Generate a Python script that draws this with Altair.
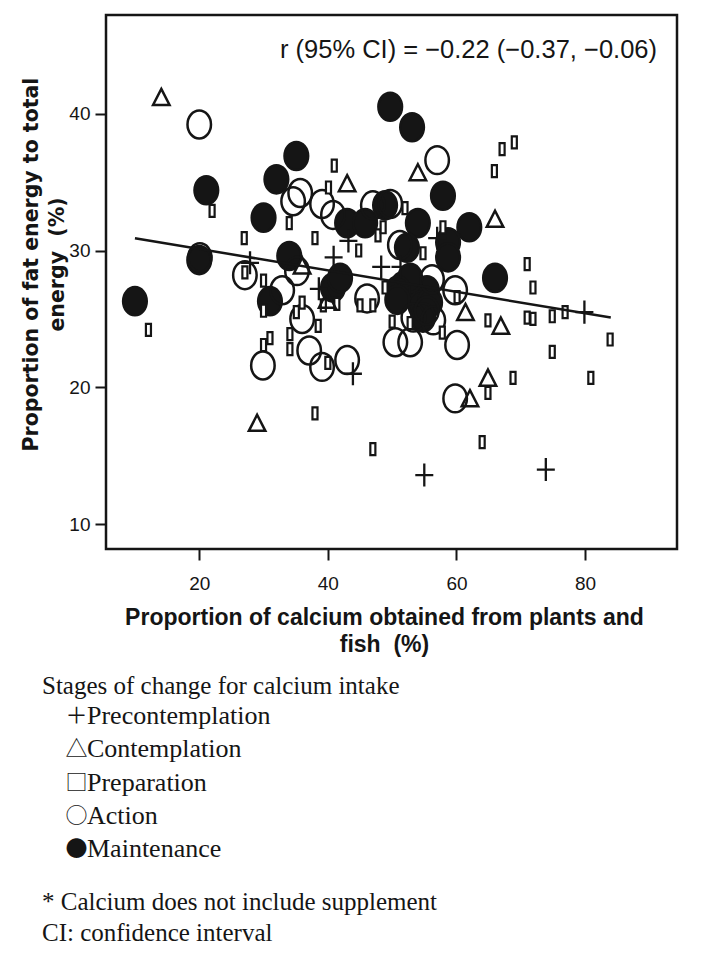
import altair as alt
import pandas as pd

# ---------------- data ----------------
stages = ["Precontemplation", "Contemplation", "Preparation", "Action", "Maintenance"]
legend_symbols = ["\uff0b", "\u25b3", "\u25a1", "\u25cb", "\u25cf"]

pre_x = [27.9, 40.9, 43.2, 38.6, 57.0, 48.3, 51.3, 43.9, 55.0, 73.9, 79.9]
pre_y = [29.1, 29.5, 30.7, 27.2, 30.9, 28.8, 28.8, 21.0, 13.6, 14.0, 25.5]

con_x = [14.1, 43.0, 54.0, 66.0, 29.0, 61.4, 66.9, 64.9, 62.1, 39.9, 36.0]
con_y = [41.2, 34.9, 35.7, 32.3, 17.4, 25.5, 24.5, 20.7, 19.2, 26.4, 28.9]

prep_x = [12.1, 22.0, 27.0, 27.1, 30.0, 30.0, 30.0, 31.0, 34.0, 34.1, 34.1, 35.1, 36.0,
          38.0, 38.5, 38.0, 39.3, 40.0, 40.1, 41.0, 41.4, 44.8, 45.0, 47.0, 47.0, 47.8,
          48.6, 48.9, 50.0, 52.0, 52.8, 54.8, 57.8, 57.9, 60.1, 64.9, 64.9, 64.0, 65.9,
          67.1, 69.0, 68.8, 71.0, 71.9, 71.0, 71.9, 74.9, 74.9, 76.9, 80.9, 83.9]
prep_y = [24.2, 32.9, 30.9, 28.4, 27.8, 25.6, 23.1, 23.6, 32.0, 23.9, 22.8, 25.5, 26.2,
          30.9, 24.5, 18.1, 26.0, 21.8, 34.6, 36.2, 26.1, 30.0, 26.0, 26.0, 15.5, 31.1,
          31.7, 27.3, 24.8, 33.1, 24.7, 29.8, 24.0, 31.7, 26.6, 24.9, 19.6, 16.0, 35.8,
          37.4, 37.9, 20.7, 29.0, 27.3, 25.1, 25.0, 25.2, 22.6, 25.5, 20.7, 23.5]

act_x = [20.0, 20.1, 27.1, 29.9, 32.9, 34.6, 35.7, 35.2, 36.0, 37.1, 39.1, 39.1, 40.8,
         43.0, 46.1, 47.0, 49.7, 51.2, 50.5, 52.8, 53.3, 56.2, 56.4, 57.0, 59.8, 60.1,
         59.8, 55.4]
act_y = [39.2, 29.5, 28.2, 21.6, 27.1, 33.6, 34.2, 28.5, 25.0, 22.7, 33.4, 21.5, 32.6,
         22.0, 26.5, 33.3, 33.4, 30.4, 23.3, 23.3, 25.1, 27.9, 24.9, 36.6, 27.1, 23.1,
         19.2, 25.6]

main_x = [10.0, 20.0, 21.1, 30.0, 31.0, 32.0, 34.0, 35.1, 40.8, 41.9, 43.0, 45.8, 48.9,
          49.7, 53.1, 54.0, 57.9, 62.0, 66.0, 58.7, 58.7, 52.3, 51.7, 53.6, 55.4, 54.4,
          55.9, 52.8, 50.9, 54.8, 50.8]
main_y = [26.3, 29.3, 34.4, 32.4, 26.3, 35.2, 29.6, 36.9, 27.3, 28.0, 32.0, 32.0, 33.3,
          40.5, 39.0, 32.0, 34.0, 31.7, 28.0, 30.6, 29.5, 30.2, 27.4, 26.7, 27.1, 26.0,
          26.2, 28.0, 27.1, 25.1, 26.4]

fit_x = [10.0, 84.0]
fit_y = [30.9, 25.1]

x_ticks = [20, 40, 60, 80]
y_ticks = [10, 20, 30, 40]

r_text = "r (95% CI) = \u22120.22 (\u22120.37, \u22120.06)"
x_title = ["Proportion of calcium obtained from plants and", "fish\u00a0\u00a0(%)"]
y_title = ["Proportion of fat energy to total", "energy\u00a0\u00a0(%)"]
legend_title = "Stages of change for calcium intake"
footnotes = ["* Calcium does not include supplement", "CI: confidence interval"]

# ---------------- styling ----------------
INK = "#151515"
ELLIPSE = "M0,-1.19A1,1.19,0,1,1,0,1.19A1,1.19,0,1,1,0,-1.19Z"
RECT = "M-0.42,-1H0.42V1H-0.42Z"
TRI = "M0,-1L1,0.95L-1,0.95Z"
PLUS = "M-1,0H1M0,-1.28V1.28"

xs = alt.Scale(domain=[5.5, 94.3], nice=False, zero=False)
ys = alt.Scale(domain=[8.2, 47.2], nice=False, zero=False)

x_enc = alt.X("x:Q", scale=xs, axis=alt.Axis(
    values=x_ticks, grid=False, domain=False, tickSize=11, tickWidth=2, tickColor=INK,
    labelFont="Liberation Sans", labelFontSize=19, labelColor=INK, labelPadding=14,
    title=x_title, titleFont="Liberation Sans", titleFontWeight="bold", titleFontSize=23,
    titleColor=INK, titleLineHeight=27, titleX=278, titleY=68, titleBaseline="middle"))
y_enc = alt.Y("y:Q", scale=ys, axis=alt.Axis(
    values=y_ticks, grid=False, domain=False, tickSize=11, tickWidth=2, tickColor=INK,
    labelFont="Liberation Sans", labelFontSize=19, labelColor=INK, labelPadding=5,
    title=y_title, titleFont="DejaVu Sans", titleFontWeight="bold", titleFontSize=20.5,
    titleColor=INK, titleLineHeight=26, titleX=-75, titleY=249, titleBaseline="middle",
    titleAngle=270))


def pts(xv, yv):
    return pd.DataFrame({"x": xv, "y": yv})


maint = alt.Chart(pts(main_x, main_y)).mark_point(
    shape=ELLIPSE, size=560, filled=True, fill=INK, stroke=INK, strokeWidth=2.5, opacity=1
).encode(x=x_enc, y=y_enc)

action = alt.Chart(pts(act_x, act_y)).mark_point(
    shape=ELLIPSE, size=552, filled=False, stroke=INK, strokeWidth=2.5, opacity=1
).encode(x=x_enc, y=y_enc)

prep = alt.Chart(pts(prep_x, prep_y)).mark_point(
    shape=RECT, size=144, filled=True, fill="white", stroke=INK, strokeWidth=2.2, opacity=1
).encode(x=x_enc, y=y_enc)

contem = alt.Chart(pts(con_x, con_y)).mark_point(
    shape=TRI, size=272, filled=False, stroke=INK, strokeWidth=2.5, opacity=1
).encode(x=x_enc, y=y_enc)

precon = alt.Chart(pts(pre_x, pre_y)).mark_point(
    shape=PLUS, size=324, filled=False, stroke=INK, strokeWidth=2.3, opacity=1
).encode(x=x_enc, y=y_enc)

fit = alt.Chart(pts(fit_x, fit_y)).mark_line(color=INK, strokeWidth=2.5).encode(x=x_enc, y=y_enc)

one = pd.DataFrame({"a": [0]})
SERIF = "Liberation Serif"

r_label = alt.Chart(one).mark_text(
    text=r_text, align="right", baseline="middle", font="Liberation Sans",
    fontSize=25.5, color=INK
).encode(x=alt.value(551), y=alt.value(35))

leg_title = alt.Chart(one).mark_text(
    text=legend_title, align="left", baseline="middle", font=SERIF, fontSize=25, color=INK
).encode(x=alt.value(-64), y=alt.value(671))

leg_syms = alt.Chart(one).mark_text(
    text=legend_symbols, align="center", baseline="middle",
    font="Noto Sans CJK JP", fontSize=22, lineHeight=33.25, color=INK
).encode(x=alt.value(-29.5), y=alt.value(701))

leg_names = alt.Chart(one).mark_text(
    text=stages, align="left", baseline="middle", font=SERIF, fontSize=26,
    lineHeight=33.25, color=INK
).encode(x=alt.value(-19), y=alt.value(701))

foot = alt.Chart(one).mark_text(
    text=footnotes, align="left", baseline="middle", font=SERIF, fontSize=25,
    lineHeight=31, color=INK
).encode(x=alt.value(-64), y=alt.value(887))

chart = alt.layer(
    maint, action, prep, contem, precon, fit, r_label, leg_title, leg_syms, leg_names, foot
).properties(
    width=571, height=534,
    padding={"left": 98, "top": 7, "right": 17, "bottom": 408},
    autosize=alt.AutoSizeParams(type="none"),
    background="white",
).configure_view(stroke=INK, strokeWidth=2.5)

chart.save("out.html", embed_options={"renderer": "svg", "actions": False})
